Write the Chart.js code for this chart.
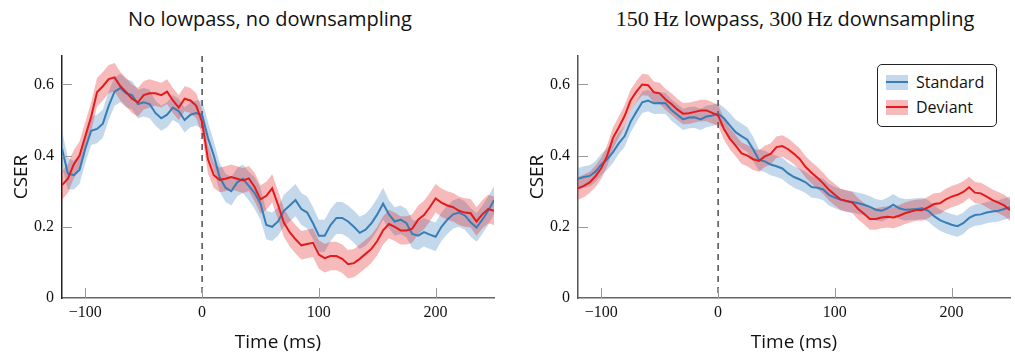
<!DOCTYPE html>
<html>
<head>
<meta charset="utf-8">
<script src="https://cdn.jsdelivr.net/npm/chart.js@4.4.1/dist/chart.umd.min.js"></script>
<style>
  body { margin: 0; background: #fff; }
  #wrap { position: relative; width: 1015px; height: 355px; }
  canvas { position: absolute; top: 0; }
  .title { position: absolute; top: 5px; font: 20px "Open Sans", sans-serif; color: #111; white-space: nowrap; transform: translateX(-50%); }
  .title .num { font-family: "Liberation Serif", serif; font-size: 22px; }
  #legend { position: absolute; left: 877px; top: 64px; width: 118px; height: 61px; border: 1px solid #222; border-radius: 5px; background: #fff; font: 16px "Open Sans", sans-serif; color: #111; }
  .item { position: absolute; left: 8px; height: 20px; line-height: 20px; }
  .patch { position: absolute; left: 0; top: 3px; width: 22px; height: 15px; }
  .patch i { position: absolute; left: 0; right: 0; top: 6px; height: 2px; }
  .item span { position: absolute; left: 30px; white-space: nowrap; }
</style>
</head>
<body>
<div id="wrap">
  <div class="title" style="left:270px">No lowpass, no downsampling</div>
  <div class="title" style="left:795px"><span class="num">150&#8201;Hz</span> lowpass, <span class="num">300&#8201;Hz</span> downsampling</div>
  <canvas id="left" width="507" height="355" style="left:0"></canvas>
  <canvas id="right" width="508" height="355" style="left:507px"></canvas>
  <div id="legend">
    <div class="item" style="top:7px"><div class="patch" style="background:rgba(55,126,184,0.3)"><i style="background:#377eb8"></i></div><span>Standard</span></div>
    <div class="item" style="top:32px"><div class="patch" style="background:rgba(228,26,28,0.3)"><i style="background:#e41a1c"></i></div><span>Deviant</span></div>
  </div>
</div>
<script>
const times = [
  -120, -115, -110, -105, -100, -95, -90, -85, -80, -75, -70, -65, -60, -55, -50,
  -45, -40, -35, -30, -25, -20, -15, -10, -5, 0, 5, 10, 15, 20, 25,
  30, 35, 40, 45, 50, 55, 60, 65, 70, 75, 80, 85, 90, 95, 100,
  105, 110, 115, 120, 125, 130, 135, 140, 145, 150, 155, 160, 165, 170, 175,
  180, 185, 190, 195, 200, 205, 210, 215, 220, 225, 230, 235, 240, 245, 250
];
const xTicks = [-100, 0, 100, 200];
const yTicks = [0, 0.2, 0.4, 0.6];

// no lowpass, no downsampling
const rawStandard = [
  0.42, 0.35, 0.345, 0.36, 0.42, 0.47, 0.475, 0.49, 0.54, 0.58, 0.59, 0.575, 0.57, 0.545, 0.55,
  0.545, 0.52, 0.505, 0.515, 0.535, 0.525, 0.50, 0.515, 0.52, 0.515, 0.45, 0.40, 0.34, 0.31, 0.30,
  0.325, 0.335, 0.315, 0.295, 0.265, 0.205, 0.20, 0.215, 0.245, 0.26, 0.275, 0.25, 0.24, 0.21, 0.175,
  0.175, 0.205, 0.225, 0.225, 0.215, 0.20, 0.183, 0.192, 0.21, 0.235, 0.265, 0.235, 0.215, 0.22, 0.21,
  0.18, 0.175, 0.185, 0.178, 0.172, 0.20, 0.22, 0.235, 0.24, 0.232, 0.213, 0.198, 0.22, 0.245, 0.275
];
const rawStandardErr = [
  0.05, 0.045, 0.04, 0.04, 0.04, 0.04, 0.04, 0.04, 0.04, 0.04, 0.04, 0.04, 0.04, 0.04, 0.04,
  0.04, 0.035, 0.035, 0.035, 0.035, 0.035, 0.035, 0.035, 0.035, 0.04, 0.045, 0.04, 0.04, 0.04, 0.04,
  0.04, 0.04, 0.04, 0.045, 0.045, 0.04, 0.04, 0.04, 0.045, 0.045, 0.045, 0.045, 0.045, 0.045, 0.045,
  0.045, 0.045, 0.045, 0.045, 0.045, 0.045, 0.045, 0.045, 0.045, 0.045, 0.045, 0.04, 0.04, 0.04, 0.04,
  0.04, 0.04, 0.04, 0.04, 0.04, 0.04, 0.04, 0.04, 0.04, 0.04, 0.04, 0.04, 0.04, 0.04, 0.04
];
const rawDeviant = [
  0.317, 0.335, 0.375, 0.40, 0.455, 0.51, 0.578, 0.595, 0.615, 0.62, 0.595, 0.578, 0.56, 0.55, 0.57,
  0.575, 0.575, 0.57, 0.58, 0.555, 0.535, 0.56, 0.555, 0.54, 0.494, 0.39, 0.345, 0.332, 0.335, 0.34,
  0.335, 0.33, 0.336, 0.312, 0.277, 0.287, 0.308, 0.262, 0.212, 0.185, 0.165, 0.148, 0.152, 0.155, 0.122,
  0.112, 0.118, 0.118, 0.11, 0.095, 0.098, 0.11, 0.124, 0.138, 0.16, 0.19, 0.208, 0.2, 0.19, 0.19,
  0.195, 0.22, 0.233, 0.255, 0.28, 0.268, 0.26, 0.255, 0.245, 0.24, 0.238, 0.215, 0.235, 0.25, 0.245
];
const rawDeviantErr = [
  0.04, 0.04, 0.04, 0.04, 0.04, 0.04, 0.04, 0.04, 0.04, 0.04, 0.04, 0.04, 0.04, 0.04, 0.04,
  0.04, 0.035, 0.035, 0.035, 0.035, 0.035, 0.035, 0.035, 0.035, 0.035, 0.04, 0.035, 0.035, 0.035, 0.035,
  0.035, 0.035, 0.035, 0.04, 0.04, 0.04, 0.04, 0.04, 0.04, 0.04, 0.04, 0.04, 0.04, 0.04, 0.04,
  0.04, 0.04, 0.04, 0.04, 0.04, 0.04, 0.04, 0.04, 0.04, 0.04, 0.04, 0.04, 0.04, 0.04, 0.04,
  0.04, 0.04, 0.04, 0.04, 0.04, 0.04, 0.04, 0.04, 0.04, 0.04, 0.04, 0.04, 0.04, 0.04, 0.04
];

// 150 Hz lowpass, 300 Hz downsampling
const filtStandard = [
  0.335, 0.34, 0.343, 0.355, 0.375, 0.39, 0.41, 0.435, 0.455, 0.495, 0.523, 0.55, 0.555, 0.547, 0.548,
  0.547, 0.528, 0.515, 0.502, 0.507, 0.508, 0.502, 0.51, 0.513, 0.518, 0.505, 0.485, 0.466, 0.455, 0.445,
  0.418, 0.388, 0.384, 0.375, 0.37, 0.364, 0.35, 0.34, 0.333, 0.325, 0.312, 0.31, 0.305, 0.29, 0.282,
  0.276, 0.272, 0.27, 0.266, 0.262, 0.256, 0.248, 0.245, 0.252, 0.262, 0.252, 0.248, 0.249, 0.25, 0.252,
  0.245, 0.23, 0.219, 0.212, 0.206, 0.202, 0.21, 0.225, 0.233, 0.235, 0.24, 0.243, 0.245, 0.25, 0.255
];
const filtStandardErr = [
  0.03, 0.03, 0.03, 0.03, 0.03, 0.03, 0.03, 0.03, 0.03, 0.03, 0.03, 0.03, 0.03, 0.03, 0.03,
  0.03, 0.03, 0.03, 0.03, 0.03, 0.03, 0.03, 0.03, 0.03, 0.03, 0.03, 0.035, 0.035, 0.035, 0.035,
  0.035, 0.03, 0.03, 0.03, 0.03, 0.03, 0.03, 0.03, 0.03, 0.03, 0.03, 0.03, 0.03, 0.03, 0.03,
  0.03, 0.03, 0.03, 0.03, 0.03, 0.03, 0.03, 0.03, 0.03, 0.03, 0.03, 0.03, 0.03, 0.03, 0.03,
  0.03, 0.03, 0.03, 0.03, 0.03, 0.03, 0.03, 0.03, 0.03, 0.03, 0.03, 0.03, 0.03, 0.03, 0.03
];
const filtDeviant = [
  0.308, 0.315, 0.325, 0.342, 0.365, 0.40, 0.45, 0.48, 0.512, 0.555, 0.58, 0.60, 0.598, 0.578, 0.575,
  0.558, 0.545, 0.53, 0.518, 0.519, 0.523, 0.527, 0.527, 0.52, 0.513, 0.475, 0.448, 0.428, 0.407, 0.40,
  0.39, 0.385, 0.398, 0.405, 0.424, 0.427, 0.418, 0.405, 0.39, 0.368, 0.352, 0.338, 0.322, 0.304, 0.29,
  0.277, 0.273, 0.268, 0.25, 0.237, 0.222, 0.222, 0.226, 0.228, 0.226, 0.231, 0.238, 0.243, 0.247, 0.247,
  0.255, 0.264, 0.266, 0.277, 0.285, 0.29, 0.298, 0.311, 0.296, 0.294, 0.285, 0.275, 0.268, 0.26, 0.247
];
const filtDeviantErr = [
  0.032, 0.032, 0.03, 0.03, 0.03, 0.03, 0.03, 0.03, 0.03, 0.03, 0.03, 0.03, 0.03, 0.03, 0.03,
  0.03, 0.03, 0.03, 0.03, 0.03, 0.03, 0.03, 0.03, 0.03, 0.03, 0.03, 0.03, 0.03, 0.03, 0.03,
  0.03, 0.03, 0.03, 0.03, 0.03, 0.03, 0.03, 0.03, 0.03, 0.03, 0.03, 0.03, 0.03, 0.03, 0.03,
  0.03, 0.03, 0.03, 0.03, 0.03, 0.03, 0.03, 0.03, 0.03, 0.03, 0.03, 0.03, 0.03, 0.03, 0.03,
  0.03, 0.03, 0.03, 0.03, 0.03, 0.03, 0.03, 0.03, 0.03, 0.03, 0.03, 0.03, 0.03, 0.03, 0.03
];

const BLUE = "#377eb8";
const RED = "#e41a1c";
const BLUE_FILL = "rgba(55, 126, 184, 0.3)";
const RED_FILL = "rgba(228, 26, 28, 0.3)";

const toPoints = (vals, err, sign) => times.map((t, i) => ({ x: t, y: vals[i] + sign * (err ? err[i] : 0) }));

// zero line + inward tick marks
const axisDecor = {
  id: "axisDecor",
  beforeDatasetsDraw(chart) {
    const { ctx, chartArea: a, scales } = chart;
    const x0 = scales.x.getPixelForValue(0);
    ctx.save();
    ctx.strokeStyle = "#333";
    ctx.lineWidth = 1.3;
    ctx.setLineDash([6, 5]);
    ctx.beginPath();
    ctx.moveTo(x0, a.top);
    ctx.lineTo(x0, a.bottom);
    ctx.stroke();
    ctx.restore();
  },
  afterDraw(chart) {
    const { ctx, chartArea: a, scales } = chart;
    ctx.save();
    ctx.strokeStyle = "#999";
    ctx.lineWidth = 1;
    yTicks.forEach((v) => {
      if (v === 0) return;
      const y = Math.round(scales.y.getPixelForValue(v)) + 0.5;
      ctx.beginPath();
      ctx.moveTo(a.left, y);
      ctx.lineTo(a.left + 10, y);
      ctx.stroke();
    });
    xTicks.forEach((v) => {
      const x = Math.round(scales.x.getPixelForValue(v)) + 0.5;
      ctx.beginPath();
      ctx.moveTo(x, a.bottom);
      ctx.lineTo(x, a.bottom - 10);
      ctx.stroke();
    });
    ctx.restore();
  }
};

function makeChart(canvas, std, stdErr, dev, devErr, axisWidth, padRight, yBorder, titlePad) {
  const band = (vals, err, color, order) => [
    { data: toPoints(vals, err, 1), borderWidth: 0, pointRadius: 0, fill: "+1", backgroundColor: color, order },
    { data: toPoints(vals, err, -1), borderWidth: 0, pointRadius: 0, fill: false, order }
  ];
  const line = (vals, color, order) => ({
    data: toPoints(vals, null, 0), borderColor: color, borderWidth: 2, pointRadius: 0, fill: false, order
  });

  return new Chart(canvas, {
    type: "line",
    data: {
      datasets: [
        ...band(std, stdErr, BLUE_FILL, 3),
        ...band(dev, devErr, RED_FILL, 2),
        line(std, BLUE, 1),
        line(dev, RED, 0)
      ]
    },
    options: {
      responsive: false,
      animation: false,
      layout: { padding: { top: 56, right: padRight, left: 0, bottom: 0 } },
      plugins: { legend: { display: false }, tooltip: { enabled: false } },
      scales: {
        x: {
          type: "linear",
          min: -120,
          max: 250,
          afterBuildTicks: (s) => { s.ticks = xTicks.map((v) => ({ value: v })); },
          afterFit: (s) => { s.height = 57; },
          grid: { display: false, drawTicks: false },
          border: { color: "#666", width: 1.5 },
          ticks: {
            padding: 5,
            color: "#111",
            font: { family: "Liberation Serif", size: 16 },
            callback: (v) => String(v).replace("-", "\u2212")
          },
          title: { display: true, text: "Time (ms)", color: "#111", font: { family: "Open Sans", size: 19 }, padding: { top: 0, bottom: 1 } }
        },
        y: {
          min: 0,
          max: 0.68,
          afterBuildTicks: (s) => { s.ticks = yTicks.map((v) => ({ value: v })); },
          afterFit: (s) => { s.width = axisWidth; },
          grid: { display: false, drawTicks: false },
          border: { color: yBorder, width: 1.5 },
          ticks: {
            padding: 8,
            color: "#111",
            font: { family: "Liberation Serif", size: 16 },
            callback: (v) => String(v)
          },
          title: { display: true, text: "CSER", color: "#111", font: { family: "Open Sans", size: 19 }, padding: { top: titlePad, bottom: 0 } }
        }
      }
    },
    plugins: [axisDecor]
  });
}

makeChart(document.getElementById("left"), rawStandard, rawStandardErr, rawDeviant, rawDeviantErr, 62, 13, "#222", 10);
makeChart(document.getElementById("right"), filtStandard, filtStandardErr, filtDeviant, filtDeviantErr, 71, 5, "#555", 19);
</script>
</body>
</html>
